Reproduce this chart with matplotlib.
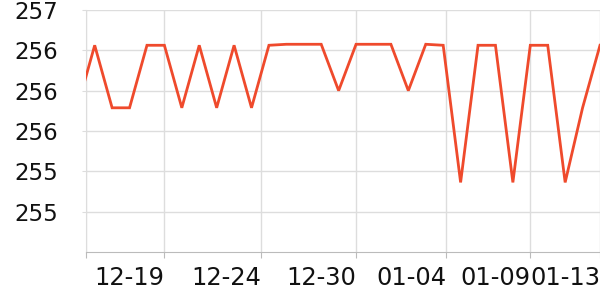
import matplotlib
matplotlib.use('Agg')
import matplotlib.pyplot as plt
from matplotlib.ticker import FormatStrFormatter

# day offsets from 12-15 (first point is 12-14, partly outside the axis)
days = list(range(-1, 30))
values = [255.83, 256.45, 255.83, 255.83, 256.45, 256.45, 255.83, 256.45,
          255.83, 256.45, 255.83, 256.45, 256.46, 256.46, 256.46, 256.0,
          256.46, 256.46, 256.46, 256.0, 256.46, 256.45, 255.09, 256.45,
          256.45, 255.09, 256.45, 256.45, 255.09, 255.83, 256.45]

tick_days = [-0.5, 4, 9.57, 15, 20.17, 25, 29]
tick_labels = ['', '12-19', '12-24', '12-30', '01-04', '01-09', '01-13']
y_ticks = [256.8, 256.4, 256.0, 255.6, 255.2, 254.8]

fig = plt.figure(figsize=(6, 3), dpi=100)
ax = fig.add_axes([0.1433, 0.16, 0.8567, 0.8067])

ax.plot(days, values, color='#ef4a2c', lw=2.0, solid_joinstyle='miter', zorder=3)

ax.set_xlim(-0.5, 29)
ax.set_ylim(254.4, 256.8)
ax.set_xticks(tick_days)
ax.set_xticklabels(tick_labels, ha='right')
ax.set_yticks(y_ticks)
ax.yaxis.set_major_formatter(FormatStrFormatter('%.0f'))

ax.grid(True, color='#dddddd', lw=1, zorder=0)
for s in ['top', 'right']:
    ax.spines[s].set_visible(False)
ax.spines['left'].set_color('#dddddd')
ax.spines['bottom'].set_color('#bbbbbb')

ax.tick_params(axis='x', length=4, color='#bbbbbb', pad=6, labelsize=17.4, labelcolor='#111111')
ax.tick_params(axis='y', length=3, color='#dddddd', pad=17, labelsize=16.5, labelcolor='#111111')

fig.savefig('out.png', dpi=100)
